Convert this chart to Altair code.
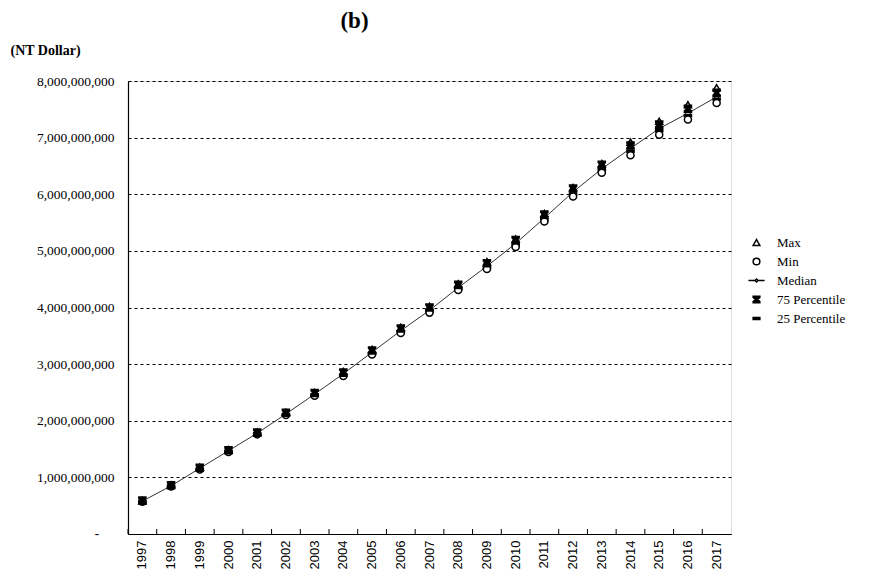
import altair as alt
import pandas as pd

years = [str(y) for y in range(1997, 2018)]
max_v = [0.59, 0.87, 1.18, 1.49, 1.80, 2.15, 2.50, 2.87, 3.26, 3.65, 4.02, 4.42, 4.81, 5.21, 5.66, 6.12, 6.54, 6.92, 7.29, 7.58, 7.88]
min_v = [0.57, 0.84, 1.14, 1.45, 1.76, 2.10, 2.44, 2.79, 3.17, 3.55, 3.91, 4.31, 4.68, 5.07, 5.52, 5.96, 6.38, 6.69, 7.05, 7.32, 7.61]
median_v = [0.58, 0.85, 1.16, 1.47, 1.78, 2.12, 2.47, 2.83, 3.21, 3.59, 3.95, 4.35, 4.73, 5.13, 5.58, 6.04, 6.45, 6.81, 7.16, 7.43, 7.72]
p75_v = [0.59, 0.86, 1.17, 1.48, 1.79, 2.14, 2.49, 2.85, 3.24, 3.63, 4.00, 4.40, 4.78, 5.19, 5.64, 6.10, 6.52, 6.86, 7.23, 7.51, 7.79]
p25_v = [0.575, 0.845, 1.15, 1.46, 1.77, 2.11, 2.46, 2.81, 3.19, 3.57, 3.93, 4.33, 4.70, 5.10, 5.55, 6.00, 6.42, 6.76, 7.12, 7.39, 7.68]
y_ticks = [0, 1e9, 2e9, 3e9, 4e9, 5e9, 6e9, 7e9, 8e9]

series_names = ["Max", "Min", "Median", "75 Percentile", "25 Percentile"]
series_vals = [max_v, min_v, median_v, p75_v, p25_v]
draw_order = ["Median", "25 Percentile", "Min", "Max", "75 Percentile"]

rows = []
for name in draw_order:
    vals = series_vals[series_names.index(name)]
    for y, v in zip(years, vals):
        rows.append({"year": y, "series": name, "value": v * 1e9, "order": draw_order.index(name)})
df = pd.DataFrame(rows)

SERIF = "Liberation Serif"

shape_paths = [
    "triangle-up",
    "circle",
    "M-2.4,0 L-0.45,0 M0.45,0 L2.4,0 M0,-0.45 L0.45,0 L0,0.45 L-0.45,0 Z",
    "M-1,-1 L1,-1 L1,-0.6 L0.35,0 L1,0.6 L1,1 L-1,1 L-1,0.6 L-0.35,0 L-1,-0.6 Z",
    "M-1,-0.28 L1,-0.28 L1,0.28 L-1,0.28 Z",
]
fills = ["white", "white", "white", "black", "black"]
strokes = ["black"] * 5

W, H = 603, 453

xaxis = alt.Axis(title=None, labelAngle=-90, ticks=False, labelPadding=6,
                 labelFont="Liberation Sans", labelFontSize=13, labelColor="black",
                 domainColor="black", domainWidth=1.2, grid=False)
xscale = alt.Scale(paddingInner=0, paddingOuter=0)
xenc = alt.X("year:N", sort=years, scale=xscale, axis=xaxis)

yenc = alt.Y("value:Q", scale=alt.Scale(domain=[0, 8e9], nice=False),
             axis=alt.Axis(values=y_ticks,
                           labelExpr="datum.value == 0 ? '' : format(datum.value, ',')",
                           labelFont=SERIF, labelFontSize=13.5, labelColor="black", labelPadding=14,
                           ticks=False, domainColor="black", domainWidth=1.2,
                           grid=True, gridColor="black", gridDash=[3, 3], gridWidth=1,
                           title="(NT Dollar)", titleAngle=0, titleAlign="left", titleBaseline="middle",
                           titleX=-118, titleY=-31, titleFont=SERIF, titleFontSize=14,
                           titleFontWeight="bold", titleColor="black"))

leg = dict(title=None, orient="none", legendX=622, legendY=155,
           labelFont=SERIF, labelFontSize=13, labelColor="black",
           symbolSize=45, labelOffset=14, rowPadding=5, symbolStrokeWidth=1.5, symbolOpacity=1)

base = alt.Chart(df).encode(x=xenc, y=yenc)

line = base.transform_filter(alt.datum.series == "Median").mark_line(color="#333333", strokeWidth=1)

median_pts = base.transform_filter(alt.datum.series == "Median").mark_point(
    shape="diamond", filled=False, stroke="black", fill="white", strokeWidth=1, size=25, opacity=1)

ticks = base.transform_filter(alt.datum.series == "Median").mark_rule(color="black", strokeWidth=1).encode(
    x=alt.X("year:N", sort=years, bandPosition=0, scale=xscale, axis=xaxis),
    y=alt.value(H - 5), y2=alt.value(H))

zero_lbl = alt.Chart(pd.DataFrame({"value": [0.0], "txt": ["-"]})).mark_text(
    font=SERIF, fontSize=13, color="black", align="center", baseline="middle", fontWeight="bold"
).encode(x=alt.value(-31), y=alt.Y("value:Q"), text="txt:N")

points = base.transform_filter(alt.datum.series != "Median").mark_point(
    filled=False, strokeWidth=1.5, size=50, opacity=1).encode(
    shape=alt.Shape("series:N", scale=alt.Scale(domain=series_names, range=shape_paths), legend=alt.Legend(**leg)),
    fill=alt.Fill("series:N", scale=alt.Scale(domain=series_names, range=fills), legend=alt.Legend(**leg)),
    stroke=alt.Stroke("series:N", scale=alt.Scale(domain=series_names, range=strokes), legend=alt.Legend(**leg)),
    order=alt.Order("order:Q"),
)

chart = alt.layer(line, ticks, median_pts, points, zero_lbl).properties(
    width=W, height=H,
    padding={"left": 2, "top": 2, "right": 5, "bottom": 5},
    title=alt.TitleParams("(b)", font=SERIF, fontSize=23, fontWeight="bold", color="black",
                          anchor="middle", dx=-75, offset=10),
).configure_view(stroke="#777777", strokeDash=[1, 1], strokeWidth=1).configure(background="white")

chart.save("out.html", embed_options={"renderer": "svg", "actions": False})
